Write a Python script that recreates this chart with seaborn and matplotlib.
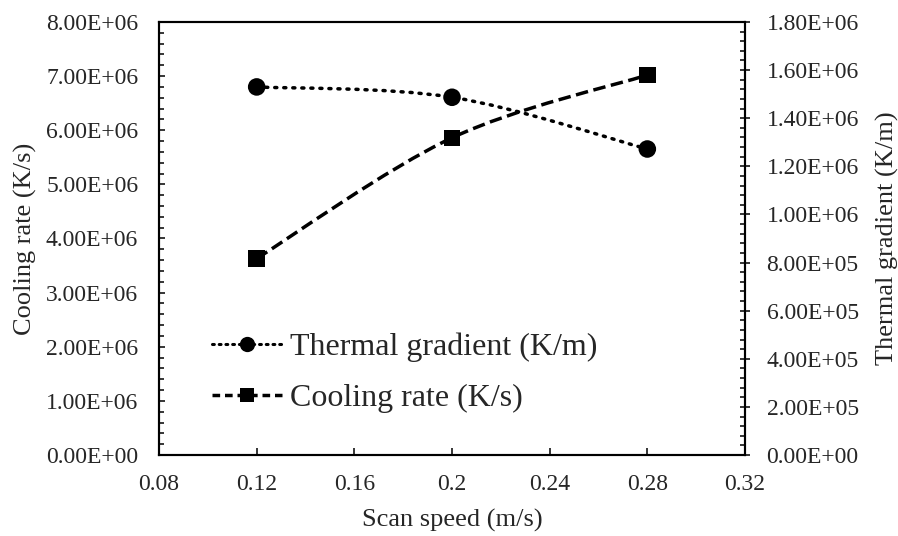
import matplotlib

matplotlib.use("Agg")
import matplotlib.pyplot as plt
import numpy as np
import pandas as pd
import seaborn as sns
from matplotlib.lines import Line2D
from matplotlib.patches import PathPatch
from matplotlib.path import Path
from matplotlib.ticker import FuncFormatter, MultipleLocator


scan_speed = [0.12, 0.2, 0.28]
cooling_rate = [3.63e6, 5.86e6, 7.02e6]
thermal_gradient = [1.53e6, 1.487e6, 1.272e6]

LINE_COLOR = "black"
FONT = ["Liberation Serif", "DejaVu Serif"]


def smooth_path(xs, ys) -> Path:
    # Excel-like smoothed line: cubic Bezier segments through every point
    pts = np.column_stack([xs, ys]).astype(float)
    padded = np.vstack([pts[0], pts, pts[-1]])
    verts = [pts[0]]
    codes = [Path.MOVETO]
    for i in range(len(pts) - 1):
        p0, p1, p2, p3 = padded[i], padded[i + 1], padded[i + 2], padded[i + 3]
        verts += [p1 + (p2 - p0) / 6, p2 - (p3 - p1) / 6, p2]
        codes += [Path.CURVE4] * 3
    return Path(verts, codes)


def sci_fmt(value, _pos):
    return f"{value:.2E}"


def speed_fmt(value, _pos):
    return f"{round(value, 2):g}"


sns.set_style("ticks")
plt.rcParams["font.family"] = FONT
plt.rcParams["mathtext.fontset"] = "stix"

df = pd.DataFrame(
    {
        "speed": scan_speed,
        "cooling": cooling_rate,
        "gradient": thermal_gradient,
    }
)

fig = plt.figure(figsize=(8.98, 5.36), dpi=100)
ax = fig.add_axes([0.1771, 0.1511, 0.6525, 0.8079])
ax2 = ax.twinx()

dotted = (0, (0.6, 2.0))
dashed = (0, (3.6, 1.6))
lw = 2.5

ax.add_patch(
    PathPatch(
        smooth_path(df["speed"], df["cooling"]),
        fill=False,
        edgecolor=LINE_COLOR,
        linewidth=lw,
        linestyle=dashed,
    )
)
sns.scatterplot(
    data=df, x="speed", y="cooling", marker="s", s=140, color=LINE_COLOR,
    edgecolor="none", ax=ax, zorder=3, legend=False,
)

dot_patch = PathPatch(
    smooth_path(df["speed"], df["gradient"]),
    fill=False,
    edgecolor=LINE_COLOR,
    linewidth=lw,
    linestyle=dotted,
)
dot_patch.set_capstyle("round")
ax2.add_patch(dot_patch)
sns.scatterplot(
    data=df, x="speed", y="gradient", marker="o", s=160, color=LINE_COLOR,
    edgecolor="none", ax=ax2, zorder=3, legend=False,
)

ax.set_xlim(0.08, 0.32)
ax.set_ylim(0, 8e6)
ax2.set_ylim(0, 1.8e6)

ax.xaxis.set_major_locator(MultipleLocator(0.04))
ax.xaxis.set_major_formatter(FuncFormatter(speed_fmt))
ax.yaxis.set_major_locator(MultipleLocator(1e6))
ax.yaxis.set_minor_locator(MultipleLocator(2e5))
ax.yaxis.set_major_formatter(FuncFormatter(sci_fmt))
ax2.yaxis.set_major_locator(MultipleLocator(2e5))
ax2.yaxis.set_minor_locator(MultipleLocator(4e4))
ax2.yaxis.set_major_formatter(FuncFormatter(sci_fmt))

tick_size = 17
ax.tick_params(axis="x", which="major", direction="in", length=5, width=1.3,
               labelsize=tick_size, pad=14, top=False)
ax.tick_params(axis="y", which="major", direction="in", length=4, width=1.3,
               labelsize=tick_size, pad=15, right=False)
ax.tick_params(axis="y", which="minor", direction="in", length=3.6, width=1.3,
               right=False)
ax2.tick_params(axis="y", which="major", direction="inout", length=7, width=1.3,
                labelsize=tick_size, pad=12)
ax2.tick_params(axis="y", which="minor", direction="in", length=3.6, width=1.3)

for axis in (ax, ax2):
    for spine in axis.spines.values():
        spine.set_visible(True)
        spine.set_linewidth(1.5)
        spine.set_color("black")

ax.set_xlabel("Scan speed (m/s)", fontsize=19)
ax.set_ylabel("Cooling rate (K/s)", fontsize=19)
ax2.set_ylabel("Thermal gradient (K/m)", fontsize=19, rotation=90)
ax.xaxis.set_label_coords(0.5, -0.152)
ax.xaxis.label.set_va("center")
ax.yaxis.set_label_coords(-0.228, 0.5)
ax.yaxis.label.set_va("center")
ax2.yaxis.set_label_coords(1.243, 0.5)
ax2.yaxis.label.set_va("center")

handles = [
    Line2D([], [], color=LINE_COLOR, linewidth=2.2, linestyle=(0, (0.6, 1.6)),
           dash_capstyle="round", marker="o", markersize=11, markeredgewidth=0),
    Line2D([], [], color=LINE_COLOR, linewidth=2.5, linestyle=(0, (2.2, 1.4)),
           marker="s", markersize=10.5, markeredgewidth=0),
]
ax2.legend(
    handles,
    ["Thermal gradient (K/m)", "Cooling rate (K/s)"],
    loc="upper left",
    bbox_to_anchor=(0.09, 0.282),
    frameon=False,
    fontsize=23,
    handlelength=2.2,
    handletextpad=0.25,
    labelspacing=0.68,
    borderpad=0,
    borderaxespad=0,
    numpoints=1,
)

fig.savefig("out.png", dpi=100)
plt.close(fig)
